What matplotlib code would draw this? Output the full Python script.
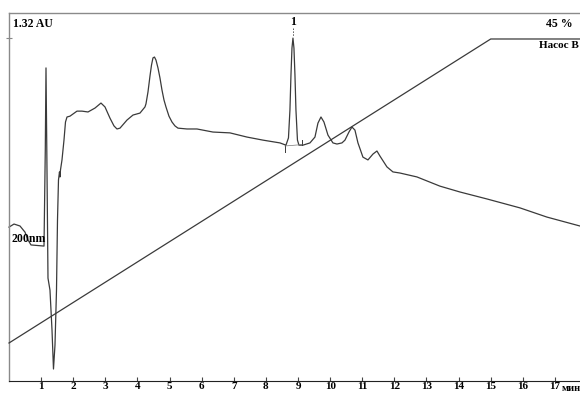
import matplotlib
matplotlib.use("Agg")
import matplotlib.pyplot as plt
import matplotlib.transforms as mtransforms

# ---- data (time in min, absorbance in AU) ----
time_min = [0.000, 0.156, 0.342, 0.498, 0.592, 0.685, 1.090,
            1.130, 1.152, 1.177, 1.214, 1.276, 1.339, 1.385, 1.432, 1.479,
            1.510, 1.541, 1.572, 1.588, 1.603, 1.650, 1.712, 1.759, 1.806,
            1.899, 2.117, 2.273, 2.460, 2.677, 2.864, 2.989, 3.144, 3.269,
            3.362, 3.456, 3.674, 3.861, 4.078, 4.234, 4.265, 4.328, 4.390,
            4.437, 4.483, 4.530, 4.577, 4.639, 4.701, 4.763, 4.826, 4.888,
            4.981, 5.075, 5.168, 5.262, 5.542,
            5.853, 6.351, 6.880, 7.410, 7.908, 8.437, 8.624, 8.702, 8.748,
            8.780, 8.811, 8.842, 8.873, 8.904, 8.935, 8.982, 9.029, 9.153,
            9.371, 9.527, 9.620,
            9.714, 9.807, 9.932, 10.087, 10.212, 10.367, 10.461, 10.585,
            10.679, 10.772, 10.866, 11.021, 11.177, 11.333, 11.457, 11.550,
            11.768, 11.955, 12.173, 12.702, 13.418, 14.041, 14.882, 15.909,
            16.750, 17.777]
absorbance = [0.552, 0.563, 0.556, 0.534, 0.506, 0.488, 0.484,
              0.829, 1.123, 0.829, 0.369, 0.326, 0.183, 0.043, 0.129, 0.326,
              0.577, 0.721, 0.750, 0.732, 0.757, 0.793, 0.864, 0.929, 0.947,
              0.950, 0.968, 0.968, 0.965, 0.979, 0.997, 0.983, 0.943, 0.915,
              0.904, 0.907, 0.936, 0.954, 0.961, 0.983, 0.994, 1.037, 1.094,
              1.133, 1.159, 1.162, 1.151, 1.123, 1.087, 1.044, 1.008, 0.983,
              0.950, 0.929, 0.915, 0.907, 0.904,
              0.904, 0.893, 0.890, 0.875, 0.864, 0.854, 0.846, 0.872, 0.972,
              1.098, 1.194, 1.230, 1.194, 1.098, 0.972, 0.864, 0.846, 0.846,
              0.854, 0.875, 0.925,
              0.947, 0.929, 0.882, 0.854, 0.850, 0.854, 0.864, 0.893,
              0.911, 0.900, 0.854, 0.803, 0.793, 0.814, 0.825, 0.807,
              0.768, 0.750, 0.746, 0.732, 0.699, 0.678, 0.653, 0.621,
              0.588, 0.556]

grad_time = [0, 15, 17.78]
grad_pct = [5, 45, 45]

peak_time = 8.842
peak_au = 1.230
peak_label = "1"
peak_start = 8.593
peak_end = 9.125

x_ticks = list(range(1, 18))
x_max = 17.78
y_max_au = 1.32
y_max_pct = 48.42

serif = ["Liberation Serif", "DejaVu Serif"]

fig = plt.figure(figsize=(5.8, 3.94), dpi=100)
ax = fig.add_axes([9 / 580, 13 / 394, 1 - 9 / 580, 368 / 394])
ax.set_xlim(0, x_max)
ax.set_ylim(0, y_max_au)

ax.plot(time_min, absorbance, color="#3a3a3a", lw=0.9, clip_on=False,
        solid_joinstyle="round")

# peak markers
ax.plot([peak_start, peak_start], [0.846, 0.821], color="#3a3a3a", lw=0.7)
ax.plot([peak_end, peak_end], [0.864, 0.846], color="#3a3a3a", lw=0.7)
ax.plot([peak_start, peak_end], [0.843, 0.848], color="#777777", lw=0.5)
ax.plot([peak_time, peak_time], [1.266, 1.237], color="#555555", lw=0.7,
        ls=(0, (1.5, 1.5)))
ax.text(peak_time, 1.288, peak_label, ha="center", va="center",
        fontsize=8.5, fontweight="bold", family=serif)

# gradient
ax2 = ax.twinx()
ax2.set_ylim(0, y_max_pct)
ax2.plot(grad_time, grad_pct, color="#3a3a3a", lw=0.9, clip_on=False)
ax2.set_yticks([])
for s in ax2.spines.values():
    s.set_visible(False)

# spines
ax.spines["right"].set_visible(False)
ax.spines["top"].set_color("#8a8a8a")
ax.spines["left"].set_color("#8a8a8a")
ax.spines["bottom"].set_color("#222222")
ax.spines["top"].set_linewidth(1.0)
ax.spines["left"].set_linewidth(1.0)

ax.set_xticks(x_ticks)
ax.set_xticklabels([str(v) for v in x_ticks], fontsize=8, fontweight="bold",
                   family=serif)
ax.tick_params(axis="x", direction="in", length=3, width=0.8,
               color="#444444", pad=1)
ax.set_yticks([1.23])
ax.set_yticklabels([])
ax.tick_params(axis="y", direction="inout", length=5, width=0.8,
               color="#888888")

# texts
ax.text(0.007, 0.970, "1.32 AU", transform=ax.transAxes, ha="left",
        va="center", fontsize=8.5, fontweight="bold", family=serif)
ax.text(16.72, 1.280, "45 %", ha="left", va="center", fontsize=8.5,
        fontweight="bold", family=serif, clip_on=False)
ax.text(16.50, 1.202, "Насос В", ha="left", va="center", fontsize=8,
        fontweight="bold", family=serif, clip_on=False)
ax.text(0.093, 0.509, "200nm", ha="left", va="center", fontsize=8.5,
        fontweight="bold", family=serif)
trans = mtransforms.blended_transform_factory(ax.transData, ax.transAxes)
ax.text(17.20, -0.021, "мин", transform=trans, ha="left", va="center",
        fontsize=7.5, fontweight="bold", family=serif, clip_on=False)

fig.savefig("out.png", dpi=100)
